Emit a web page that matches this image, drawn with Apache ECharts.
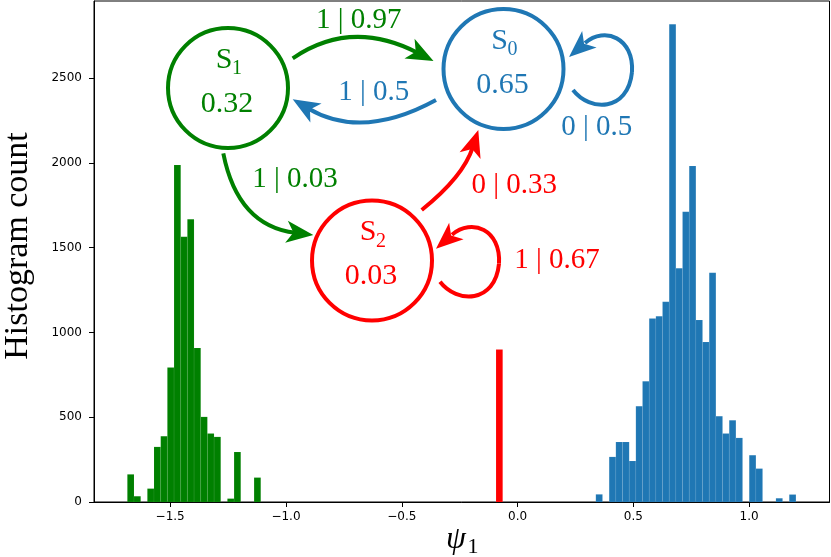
<!DOCTYPE html>
<html>
<head>
<meta charset="utf-8">
<script src="https://cdn.jsdelivr.net/npm/echarts@6/dist/echarts.min.js"></script>
<style>
  html, body { margin: 0; padding: 0; background: #fff; }
  #chart { width: 831px; height: 557px; }
</style>
</head>
<body>
<div id="chart"></div>
<script>
// histogram bins (left edge of first bin, common bin width, counts per bin)
const binWidth = 0.0288
const greenStart = -1.685
const greenCounts = [163, 34, 0, 79, 325, 388, 793, 1988, 1564, 1667, 909, 502, 404, 384, 0, 20, 295, 0, 0, 144]
const redStart = -0.093
const redCounts = [900]
const blueStart = 0.338
const blueCounts = [45, 0, 266, 354, 354, 242, 565, 712, 1083, 1096, 1181, 2818, 1378, 1712, 1982,
  1073, 943, 1352, 506, 404, 482, 378, 0, 276, 197, 0, 0, 22, 0, 44]

const xTicks = [-1.5, -1.0, -0.5, 0.0, 0.5, 1.0]
const yTicks = [0, 500, 1000, 1500, 2000, 2500]

// state diagram text
const states = [
  { name: 'S', sub: '1', prob: '0.32', color: '#008000' },
  { name: 'S', sub: '0', prob: '0.65', color: '#1f77b4' },
  { name: 'S', sub: '2', prob: '0.03', color: '#ff0000' }
]
const edgeLabels = ['1 | 0.97', '1 | 0.5', '0 | 0.5', '1 | 0.03', '0 | 0.33', '1 | 0.67']

function toBins(start, counts) {
  const out = []
  counts.forEach((c, i) => {
    if (c > 0) out.push([start + i * binWidth, start + (i + 1) * binWidth, c])
  })
  return out
}

function histSeries(name, start, counts, color) {
  return {
    name: name,
    type: 'custom',
    data: toBins(start, counts),
    renderItem: (params, api) => {
      const p0 = api.coord([api.value(0), api.value(2)])
      const p1 = api.coord([api.value(1), 0])
      return {
        type: 'rect',
        shape: { x: p0[0], y: p0[1], width: p1[0] - p0[0], height: p1[1] - p0[1] },
        style: { fill: color, stroke: 'rgba(255,255,255,0.12)', lineWidth: 0.5 }
      }
    }
  }
}

const serif = 'Liberation Serif'
const graphics = []

function txt(text, x, y, size, color, extra) {
  graphics.push({
    type: 'text', x: x, y: y, z: 100,
    style: Object.assign({
      text: text, fontSize: size, fontFamily: serif, fill: color,
      align: 'center', verticalAlign: 'middle'
    }, extra || {})
  })
}

function head(tip, from, color) {
  const dx = tip[0] - from[0], dy = tip[1] - from[1]
  const len = Math.sqrt(dx * dx + dy * dy)
  const d = [dx / len, dy / len], n = [-d[1], d[0]]
  const L = 27, W = 11, notch = 7
  graphics.push({
    type: 'polygon', z: 101,
    shape: { points: [
      tip,
      [tip[0] - L * d[0] + W * n[0], tip[1] - L * d[1] + W * n[1]],
      [tip[0] - (L - notch) * d[0], tip[1] - (L - notch) * d[1]],
      [tip[0] - L * d[0] - W * n[0], tip[1] - L * d[1] - W * n[1]]
    ] },
    style: { fill: color }
  })
  return [tip[0] - 18 * d[0], tip[1] - 18 * d[1]]
}

function curve(shape, color) {
  graphics.push({
    type: 'bezierCurve', z: 100,
    shape: shape,
    style: { fill: null, stroke: color, lineWidth: 4 }
  })
}

function arrow(from, ctrl, tip, color) {
  const end = head(tip, ctrl, color)
  curve({ x1: from[0], y1: from[1], cpx1: ctrl[0], cpy1: ctrl[1], x2: end[0], y2: end[1] }, color)
}

// self loop: two cubic pieces [start, c1, c2, mid] and [mid, c3, c4, end]
function loop(pts, tip, from, color) {
  head(tip, from, color)
  for (let k = 0; k < 2; k++) {
    const p = pts.slice(k * 3, k * 3 + 4)
    curve({
      x1: p[0][0], y1: p[0][1], cpx1: p[1][0], cpy1: p[1][1],
      cpx2: p[2][0], cpy2: p[2][1], x2: p[3][0], y2: p[3][1]
    }, color)
  }
}

// nodes
const nodePos = [[228, 88], [503.5, 69], [372, 260.5]]
states.forEach((s, i) => {
  const [cx, cy] = nodePos[i]
  graphics.push({
    type: 'circle', z: 100,
    shape: { cx: cx, cy: cy, r: 60 },
    style: { fill: null, stroke: s.color, lineWidth: 4 }
  })
  txt(s.name, cx - 4, cy - 28, 30, s.color)
  txt(s.sub, cx + 9, cy - 19, 20, s.color)
  txt(s.prob, cx - 1, cy + 16, 30, s.color)
})

// edges
arrow([292.7, 58.3], [351, 18.4], [433.5, 61], '#008000')
arrow([436, 100], [362.3, 140.3], [292.7, 99.3], '#1f77b4')
arrow([223.3, 153.3], [237.7, 225.8], [313.3, 235], '#008000')
arrow([421.7, 210], [463.4, 176.6], [478.3, 130], '#ff0000')
loop([[573, 90], [590, 112], [628, 112], [632, 72], [634, 38], [605, 26], [585, 43]],
  [569, 57], [592.8, 36.3], '#1f77b4')
loop([[440, 281.7], [457, 303.7], [495, 303.7], [499, 263.7], [501, 229.7], [472, 217.7], [452, 234.7]],
  [436, 248.7], [459.8, 228], '#ff0000')

txt(edgeLabels[0], 358.7, 20, 29, '#008000')
txt(edgeLabels[1], 373.8, 92, 29, '#1f77b4')
txt(edgeLabels[2], 596.7, 127.5, 29, '#1f77b4')
txt(edgeLabels[3], 295, 179, 29, '#008000')
txt(edgeLabels[4], 514.3, 185, 29, '#ff0000')
txt(edgeLabels[5], 557, 260, 29, '#ff0000')

// axis titles
graphics.push({
  type: 'text', x: 18, y: 246, rotation: Math.PI / 2, z: 100,
  style: { text: 'Histogram count', fontSize: 34, fontFamily: serif, fill: '#000', align: 'center', verticalAlign: 'middle' }
})
txt('ψ', 456, 540, 32, '#000', { fontStyle: 'italic' })
txt('1', 473, 547, 22, '#000')

const fmt = v => (v < 0 ? '\u2212' + Math.abs(v).toFixed(1) : v.toFixed(1))

const option = {
  animation: false,
  grid: {
    left: 94, right: 1.5, top: 1, bottom: 55,
    show: true, borderColor: '#000', borderWidth: 1,
    outerBoundsMode: 'none'
  },
  xAxis: {
    type: 'value', min: -1.829, max: 1.347,
    splitLine: { show: false },
    axisLine: { onZero: false, lineStyle: { color: '#000', width: 1 } },
    axisTick: { customValues: xTicks, length: 5, lineStyle: { color: '#000' } },
    axisLabel: { customValues: xTicks, formatter: fmt, margin: 9, fontFamily: 'DejaVu Sans', fontSize: 12, color: '#000' }
  },
  yAxis: {
    type: 'value', min: 0, max: 2955,
    splitLine: { show: false },
    axisLine: { show: true, onZero: false, lineStyle: { color: '#000', width: 1 } },
    axisTick: { show: true, customValues: yTicks, length: 5, lineStyle: { color: '#000' } },
    axisLabel: { customValues: yTicks, formatter: v => String(v), margin: 12, fontFamily: 'DejaVu Sans', fontSize: 12, color: '#000' }
  },
  series: [
    histSeries('S1', greenStart, greenCounts, '#008000'),
    histSeries('S2', redStart, redCounts, '#ff0000'),
    histSeries('S0', blueStart, blueCounts, '#1f77b4')
  ],
  graphic: graphics
}

const chart = echarts.init(document.getElementById('chart'))
chart.setOption(option)
</script>
</body>
</html>
